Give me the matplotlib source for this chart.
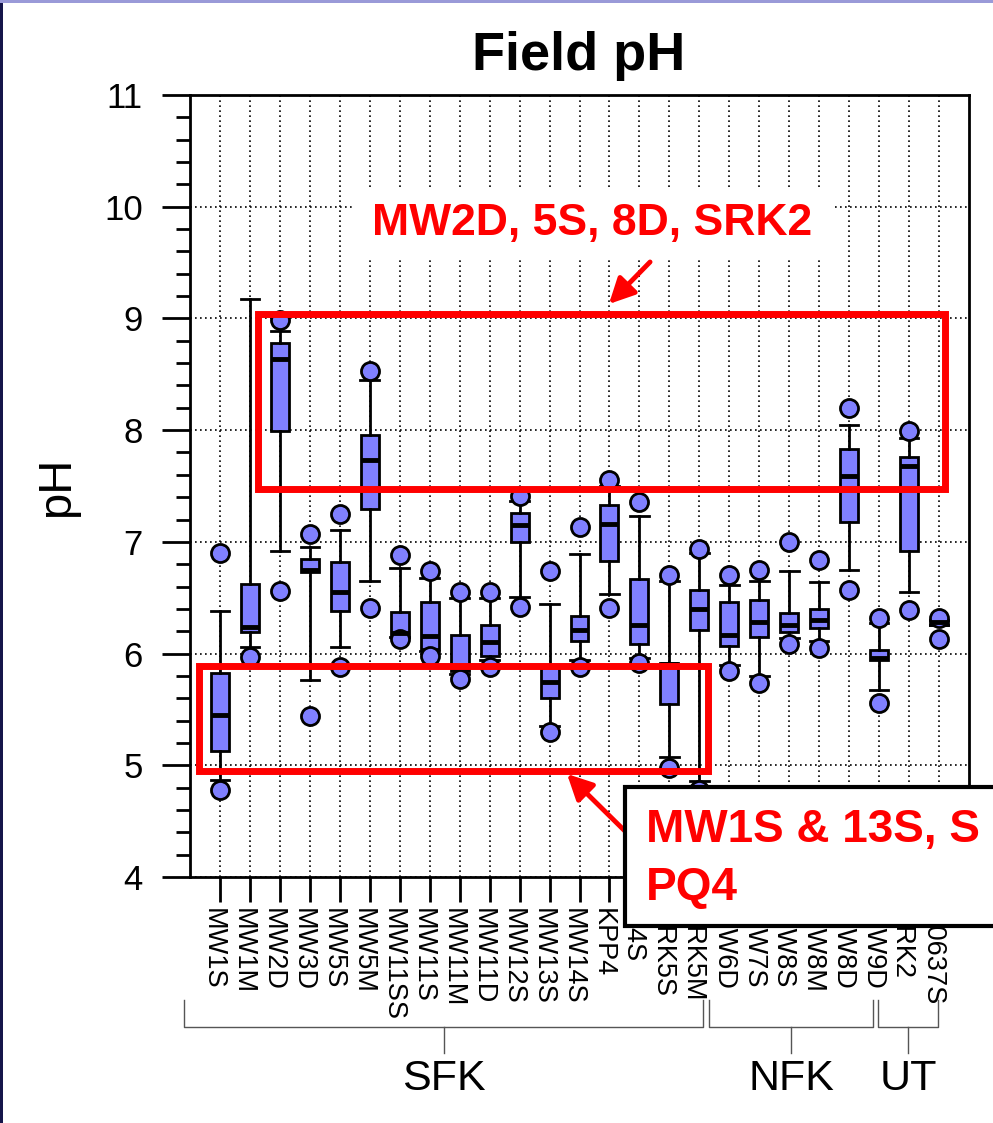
import matplotlib

matplotlib.use("Agg")
import matplotlib.pyplot as plt
import numpy as np
from matplotlib.lines import Line2D
from matplotlib.patches import FancyArrowPatch, Rectangle
from matplotlib.transforms import ScaledTranslation, blended_transform_factory

# well names along the x axis (SFK, NFK, UT groups)
WELLS = [
    "MW1S", "MW1M", "MW2D", "MW3D", "MW5S", "MW5M", "MW11SS", "MW11S", "MW11M",
    "MW11D", "MW12S", "MW13S", "MW14S", "KPP4", "Q4S", "SRK5S", "SRK5M",
    "MW6D", "MW7S", "MW8S", "MW8M", "MW8D", "MW9D",
    "SRK2", "U0637S",
]
# percentiles of field pH per well (5th/95th drawn as circles)
P05 = [4.78, 5.97, 6.56, 5.44, 5.88, 6.41, 6.13, 5.98, 5.77, 5.88, 6.42, 5.30, 5.88,
       6.41, 5.92, 4.98, 4.78, 5.84, 5.74, 6.09, 6.05, 6.57, 5.56, 6.39, 6.13]
P10 = [4.87, 6.06, 6.92, 5.76, 6.06, 6.65, 6.15, 6.02, 5.82, 5.94, 6.51, 5.35, 5.94,
       6.53, 5.96, 5.07, 4.86, 5.90, 5.80, 6.14, 6.11, 6.75, 5.67, 6.55, 6.26]
Q1 = [5.13, 6.19, 7.99, 6.73, 6.38, 7.29, 6.15, 6.04, 5.84, 5.98, 7.00, 5.60, 6.11,
      6.83, 6.09, 5.55, 6.21, 6.07, 6.15, 6.19, 6.23, 7.18, 5.94, 6.92, 6.26]
MED = [5.45, 6.24, 8.64, 6.75, 6.55, 7.73, 6.18, 6.16, 5.87, 6.10, 7.15, 5.75, 6.21,
       7.16, 6.26, 5.91, 6.40, 6.17, 6.28, 6.26, 6.30, 7.59, 5.96, 7.68, 6.28]
Q3 = [5.83, 6.62, 8.78, 6.85, 6.82, 7.96, 6.37, 6.46, 6.17, 6.26, 7.26, 5.89, 6.34,
      7.33, 6.67, 5.92, 6.57, 6.46, 6.48, 6.36, 6.40, 7.83, 6.03, 7.76, 6.30]
P90 = [6.38, 9.17, 8.89, 6.95, 7.11, 8.45, 6.77, 6.68, 6.50, 6.50, 7.37, 6.44, 6.89,
       7.50, 7.23, 6.65, 6.90, 6.61, 6.65, 6.74, 6.64, 8.05, 6.27, 7.93, 6.30]
P95 = [6.90, np.nan, 8.99, 7.07, 7.25, 8.53, 6.88, 6.74, 6.55, 6.55, 7.41, 6.74, 7.13,
       7.55, 7.36, 6.70, 6.94, 6.70, 6.75, 7.00, 6.84, 8.20, 6.32, 7.99, 6.32]

GROUPS = ["SFK", "NFK", "UT"]
GROUP_SPANS = [(-1.2, 16.13), (16.33, 21.8), (21.97, 23.97)]

FIG_W, FIG_H = 993, 1123
BOX_BLUE = "#8080ff"
RED = "#ff0000"


def fx(px: float) -> float:
    return px / FIG_W


def fy(py: float) -> float:
    return 1 - py / FIG_H


plt.rcParams["font.family"] = ["Liberation Sans", "DejaVu Sans"]

fig = plt.figure(figsize=(FIG_W / 100, FIG_H / 100), dpi=100)
ax = fig.add_axes([fx(190), fy(877), fx(969) - fx(190), fy(95) - fy(877)])

stats = []
for i, name in enumerate(WELLS):
    fliers = [v for v in (P05[i], P95[i]) if not np.isnan(v)]
    stats.append(
        dict(label=name, whislo=P10[i], q1=Q1[i], med=MED[i], q3=Q3[i],
             whishi=P90[i], fliers=fliers)
    )

positions = np.arange(len(WELLS))
ax.bxp(
    stats,
    positions=positions,
    widths=0.6,
    capwidths=0.62,
    patch_artist=True,
    manage_ticks=False,
    boxprops=dict(facecolor=BOX_BLUE, edgecolor="black", linewidth=2),
    medianprops=dict(color="black", linewidth=3.5, solid_capstyle="butt"),
    whiskerprops=dict(color="black", linewidth=2),
    capprops=dict(color="black", linewidth=2),
    flierprops=dict(marker="o", markerfacecolor=BOX_BLUE, markeredgecolor="black",
                    markersize=13, markeredgewidth=2),
)

ax.set_xlim(-1, len(WELLS))
ax.set_ylim(4, 11)
ax.set_xticks(positions)
ax.set_xticklabels(WELLS, rotation=-90, fontsize=19.5, va="top", ha="center")
ax.set_yticks(np.arange(4, 12, 1))
ax.set_yticks(np.arange(4, 11.01, 0.2), minor=True)
ax.tick_params(axis="y", which="major", direction="out", length=20, width=2,
               labelsize=25, pad=14)
ax.tick_params(axis="y", which="minor", direction="out", length=10, width=2)
ax.tick_params(axis="x", which="major", direction="out", length=18, width=2, pad=4)
ax.grid(True, which="major", color="black", linestyle=(0, (1, 2)), linewidth=1.2)
ax.set_axisbelow(True)
for spine in ax.spines.values():
    spine.set_linewidth(2)

shift = ScaledTranslation(-7 / 100, 0, fig.dpi_scale_trans)
for lab in ax.get_xticklabels():
    lab.set_transform(lab.get_transform() + shift)

# highlighted regions
ax.add_patch(Rectangle((1.27, 7.47), 22.93, 1.57, fill=False, edgecolor=RED,
                       linewidth=5, zorder=6, clip_on=False))
ax.add_patch(Rectangle((-0.7, 4.95), 17.0, 0.94, fill=False, edgecolor=RED,
                       linewidth=5, zorder=6, clip_on=False))

# title and y label
fig.text(fx(579), fy(70), "Field pH", ha="center", va="baseline", fontsize=39,
         fontweight="bold")
fig.text(fx(57), fy(487), "pH", ha="center", va="center", rotation=90, fontsize=34)

# group brackets under the well names
blend = blended_transform_factory(ax.transData, fig.transFigure)
for name, (x0, x1) in zip(GROUPS, GROUP_SPANS):
    xm = (x0 + x1) / 2
    for xs, ys in (([x0, x0, x1, x1], [fy(1000), fy(1027), fy(1027), fy(1000)]),
                   ([xm, xm], [fy(1027), fy(1053)])):
        fig.add_artist(Line2D(xs, ys, transform=blend, color="#555555", linewidth=1))
    fig.text(xm, fy(1079), name, transform=blend, ha="center", va="center",
             fontsize=31)

# upper callout
fig.add_artist(Rectangle((fx(352), fy(258)), fx(832) - fx(352), fy(190) - fy(258),
                         transform=fig.transFigure, facecolor="white",
                         edgecolor="none", zorder=2))
fig.text(fx(592), fy(235), "MW2D, 5S, 8D, SRK2", ha="center", va="baseline",
         fontsize=32, fontweight="bold", color=RED, zorder=3)
arrow_style = "-|>,head_length=0.9,head_width=0.45"
fig.add_artist(FancyArrowPatch((fx(652), fy(260)), (fx(607), fy(306)),
                               transform=fig.transFigure, color=RED, linewidth=3.5,
                               arrowstyle=arrow_style, mutation_scale=17, zorder=3))

# lower callout
fig.add_artist(FancyArrowPatch((fx(632), fy(838)), (fx(565), fy(772)),
                               transform=fig.transFigure, color=RED, linewidth=3.5,
                               arrowstyle=arrow_style, mutation_scale=17, zorder=3))
fig.add_artist(Rectangle((fx(625), fy(926)), fx(1010) - fx(625), fy(787) - fy(926),
                         transform=fig.transFigure, facecolor="white",
                         edgecolor="black", linewidth=3, zorder=4))
fig.text(fx(646), fy(842), "MW1S & 13S, S", ha="left", va="baseline",
         fontsize=33, fontweight="bold", color=RED, zorder=5)
fig.text(fx(646), fy(900), "PQ4", ha="left", va="baseline", fontsize=33,
         fontweight="bold", color=RED, zorder=5)

# slide frame edges
fig.add_artist(Rectangle((0, 0), fx(3), 1, transform=fig.transFigure,
                         facecolor="#15154a", edgecolor="none", zorder=6))
fig.add_artist(Rectangle((0, fy(3)), 1, fy(0) - fy(3), transform=fig.transFigure,
                         facecolor="#9a9ad8", edgecolor="none", zorder=6))

fig.savefig("out.png", dpi=100)
